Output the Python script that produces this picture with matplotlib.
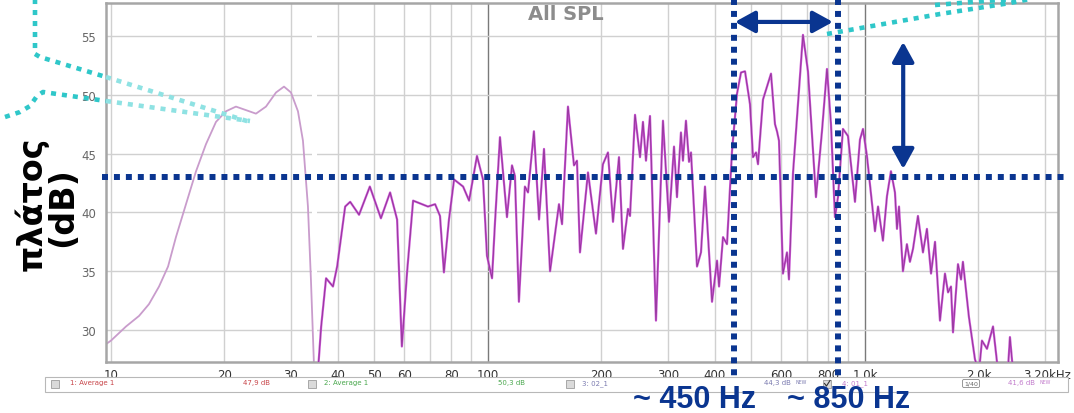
import numpy as np
import matplotlib
matplotlib.use("Agg")
import matplotlib.pyplot as plt
from matplotlib.lines import Line2D
from matplotlib.patches import Rectangle
from matplotlib.ticker import NullLocator
from matplotlib.transforms import ScaledTranslation

# --- measured responses -------------------------------------------------
# low band (light trace), Hz / dB
low_freq = [9.7, 10.0, 10.96, 11.87, 12.61, 13.41, 14.17, 14.87, 15.81, 16.81,
            17.86, 18.99, 20.18, 21.45, 22.81, 24.24, 25.77, 27.40, 28.77,
            30.02, 31.33, 32.30, 33.30, 33.92, 34.55]
low_db = [28.8, 29.1, 30.3, 31.2, 32.2, 33.7, 35.4, 37.9, 40.7, 43.5,
          45.8, 47.7, 48.6, 49.0, 48.7, 48.4, 49.0, 50.2, 50.7,
          50.2, 48.6, 46.1, 40.5, 34.2, 27.0]

# main trace 01_1, Hz / dB
main_freq = [35.4, 36.1, 37.2, 38.8, 39.8, 41.8, 43.1, 45.5, 48.6, 52.0,
             55.0, 57.4, 59.1, 61.0, 63.3, 69.3, 72.4, 74.6, 76.4, 78.8,
             81.3, 85.9, 89.1, 93.5, 97.0, 99.4, 102.5, 104.4, 107.6, 112.3,
             115.8, 117.9, 120.8, 125.3, 127.7, 132.4, 136.6, 140.8, 146.1, 154.3,
             157.2, 163.0, 169.1, 172.2, 175.4, 184.2, 193.4, 201.8, 208.1, 214.6,
             222.6, 228.1, 235.2, 238.1, 245.5, 253.1, 257.7, 262.5, 269.0, 279.0,
             291.2, 302.1, 311.5, 317.2, 325.0, 329.0, 335.1, 341.4, 345.6, 358.5,
             367.3, 376.4, 392.9, 405.1, 410.1, 420.2, 430.5, 443.9, 457.7, 469.0,
             480.6, 495.5, 504.7, 514.0, 520.3, 536.4, 549.7, 563.3, 577.2, 584.3,
             591.5, 606.0, 621.0, 628.6, 644.2, 684.7, 706.0, 741.3, 769.0, 792.9,
             812.5, 832.5, 848.0, 874.2, 901.4, 940.8, 970.0, 988.0, 1012, 1063,
             1083, 1116, 1144, 1172, 1201, 1216, 1231, 1261, 1292, 1316,
             1341, 1382, 1425, 1460, 1497, 1534, 1581, 1630, 1661, 1691,
             1712, 1765, 1798, 1819, 1887, 1958, 2007, 2043, 2107, 2186,
             2254, 2393, 2424, 2470]
main_db = [26.5, 30.3, 34.4, 33.7, 35.4, 40.5, 40.9, 39.8, 42.2, 39.5,
           41.7, 39.4, 28.6, 34.9, 41.0, 40.5, 40.7, 39.7, 34.9, 39.4,
           42.8, 42.2, 41.0, 44.8, 42.8, 36.3, 34.4, 39.2, 46.4, 39.6,
           44.0, 43.1, 32.4, 42.2, 41.7, 46.9, 39.4, 45.4, 35.0, 40.7,
           39.0, 49.0, 44.0, 44.4, 36.6, 43.4, 38.2, 44.1, 45.1, 39.2,
           44.7, 36.9, 40.3, 39.7, 48.3, 44.7, 47.7, 44.4, 48.2, 30.8,
           47.8, 39.2, 45.6, 41.3, 46.8, 44.4, 47.8, 44.3, 45.1, 35.4,
           36.6, 42.2, 32.4, 35.9, 33.7, 37.9, 37.3, 45.2, 50.1, 51.9,
           52.0, 49.2, 44.7, 45.1, 44.1, 49.6, 50.7, 51.8, 47.5, 46.9,
           46.1, 34.8, 36.6, 34.3, 43.3, 55.1, 52.0, 41.3, 46.9, 52.2,
           47.5, 39.6, 41.3, 47.1, 46.5, 40.9, 46.2, 47.1, 44.8, 38.4,
           40.5, 37.6, 41.4, 43.5, 41.7, 38.6, 40.5, 35.0, 37.3, 35.8,
           36.9, 39.7, 36.6, 38.6, 34.8, 37.5, 30.8, 34.8, 33.2, 33.7,
           29.8, 35.6, 34.3, 35.8, 31.1, 27.5, 26.5, 29.1, 28.4, 30.3,
           26.5, 26.5, 29.4, 26.5]

# reference markers
mean_level = 43.0
band_edges = [450, 850]
band_arrow = (452, 822, 56.2)        # f_lo, f_hi, level
gap_arrow = (1263, 43.7, 54.5)       # freq, dB bottom, dB top

# axis ticks
tick_freqs = [10, 20, 30, 40, 50, 60, 80, 100, 200, 300, 400, 600, 800,
              1000, 2000, 3200]
tick_labels = ["10", "20", "30", "40", "50", "60", "80", "100", "200", "300",
               "400", "600", "800", "1,0k", "2,0k", "3,20kHz"]
grid_freqs = ([10 * i for i in range(1, 10)] + [100 * i for i in range(1, 10)]
              + [1000, 2000, 3000])
db_ticks = [30, 35, 40, 45, 50, 55]

# legend strip of the measurement tool
legend_names = ["1: Average 1", "2: Average 1", "3: 02_1", "4: 01_1"]
legend_values = ["47,9 dB", "50,3 dB", "44,3 dB", "41,6 dB"]
legend_colors = ["#c8464a", "#4aa84e", "#7b7bb0", "#c27ccc"]

NAVY = "#0a3590"
CYAN = "#2fc7c9"
CYAN_LT = "#8fe2e3"

W, H = 1074, 414
fig = plt.figure(figsize=(W / 100, H / 100), dpi=100)


def fx(px):
    return px / W


def fy(py):
    return 1 - py / H


ax = fig.add_axes([fx(106), fy(363), (1058 - 106) / W, (363 - 4) / H])
ax.set_xscale("log")
ax.set_xlim(9.70, 3251)
ax.set_ylim(27.28, 57.81)

for f in grid_freqs:
    dark = f in (100, 1000)
    ax.axvline(f, color="#7a7a7a" if dark else "#d0d0d0", lw=1.0, zorder=0.5)
for v in db_ticks:
    ax.axhline(v, color="#d0d0d0", lw=1.0, zorder=0.5)
# blank seam between the two sweeps
ax.axvspan(34.1, 35.2, color="white", lw=0, zorder=0.8)

ax.set_xticks(tick_freqs)
ax.set_xticklabels(tick_labels)
ax.xaxis.set_minor_locator(NullLocator())
ax.set_yticks(db_ticks)
ax.tick_params(length=0, labelsize=8.5)
ax.tick_params(axis="x", pad=4, labelcolor="#333333")
ax.tick_params(axis="y", pad=7, labelcolor="#666666")
last = ax.get_xticklabels()[-1]
last.set_transform(last.get_transform()
                   + ScaledTranslation(-8 / 100, 0, fig.dpi_scale_trans))
for s in ax.spines.values():
    s.set_color("#a6a6a6")
    s.set_linewidth(1.8)

ax.plot(low_freq, low_db, color="#c99ccc", lw=1.3, zorder=2)
ax.plot(main_freq, main_db, color="#c855d2", lw=1.6, zorder=3,
        solid_joinstyle="round")
ax.plot(main_freq, main_db, color="#6b1f6e", lw=0.45, alpha=0.75, zorder=3.1,
        solid_joinstyle="round")

# dotted reference lines
dot = dict(color=NAVY, lw=4.3, dashes=(1, 1), dash_capstyle="butt",
           clip_on=False, zorder=5)
ax.plot([9.46, 3436], [mean_level, mean_level], **dot)
for f in band_edges:
    ax.plot([f, f], [58.15, 25.4], **dot)

arrow = dict(arrowstyle="<|-|>,head_length=0.6,head_width=0.33",
             color=NAVY, lw=3, mutation_scale=20, shrinkA=0, shrinkB=0)
ax.annotate("", xy=(band_arrow[0], band_arrow[2]),
            xytext=(band_arrow[1], band_arrow[2]), arrowprops=arrow,
            annotation_clip=False, zorder=6)
ax.annotate("", xy=(gap_arrow[0], gap_arrow[1]),
            xytext=(gap_arrow[0], gap_arrow[2]), arrowprops=arrow,
            annotation_clip=False, zorder=6)

fig.text(fx(566), fy(14), "All SPL", ha="center", va="center", fontsize=14,
         fontweight="bold", color="#8c8c8c")

# callout lines coming in from the slide
callouts = [
    ([35, 35, 40, 106], [0, 55, 58, 78], CYAN),
    ([106, 250], [78, 123], CYAN_LT),
    ([5, 20, 30, 37, 43, 106], [118, 113, 107, 97, 93, 102], CYAN),
    ([106, 250], [102, 122], CYAN_LT),
    ([827, 940, 1010, 1035], [35, 15, 4, -1], CYAN),
    ([935, 985, 1030], [6, 2, -1], CYAN),
]
for xs, ys, c in callouts:
    fig.add_artist(Line2D([fx(x) for x in xs], [fy(y) for y in ys],
                          transform=fig.transFigure, color=c, lw=3.3,
                          dashes=(1.1, 1.3), dash_capstyle="butt", zorder=4))

# y label
fig.text(fx(31), fy(203.5), "πλάτος", rotation=90, ha="center", va="center",
         fontsize=24, fontweight="bold", color="black")
fig.text(fx(62.5), fy(207.5), "(dB)", rotation=90, ha="center", va="center",
         fontsize=24, fontweight="bold", color="black")

# legend strip
fig.add_artist(Rectangle((fx(45), fy(393)), (1068 - 45) / W, 15 / H,
                         transform=fig.transFigure, facecolor="white",
                         edgecolor="#b8b8b8", lw=0.8, zorder=1))
box_x = [51, 308, 566, 823]
name_x = [70, 324, 582, 842]
value_x = [243, 498, 764, 1008]
for i in range(4):
    fig.add_artist(Rectangle((fx(box_x[i]), fy(388.5)), 8 / W, 8 / H,
                             transform=fig.transFigure, facecolor="#dadada",
                             edgecolor="#9c9c9c", lw=0.6, zorder=2))
    fig.text(fx(name_x[i]), fy(383.5), legend_names[i], fontsize=5.0,
             color=legend_colors[i], va="center")
    fig.text(fx(value_x[i]), fy(383.5), legend_values[i], fontsize=5.0,
             color=legend_colors[i], va="center")
    if i >= 2:
        fig.text(fx(value_x[i] + 32), fy(382.5), "NEW", fontsize=3.4,
                 color=legend_colors[i], va="center")
# tick in the active trace's checkbox
fig.add_artist(Line2D([fx(824.5), fx(826.5), fx(830)],
                      [fy(384.5), fy(387), fy(381.5)],
                      transform=fig.transFigure, color="#333333", lw=0.8,
                      zorder=3))
fig.text(fx(971), fy(384.5), "1/40", fontsize=4.5, color="#666666",
         ha="center", va="center",
         bbox=dict(boxstyle="round,pad=0.25", fc="white", ec="#888888", lw=0.6))

# band annotations
for x0, txt in [(633, "~ 450 Hz"), (787, "~ 850 Hz")]:
    fig.text(fx(x0), fy(408), txt, fontsize=22, fontweight="bold",
             family="Liberation Sans", color=NAVY, va="baseline")

fig.savefig("out.png", dpi=100)
